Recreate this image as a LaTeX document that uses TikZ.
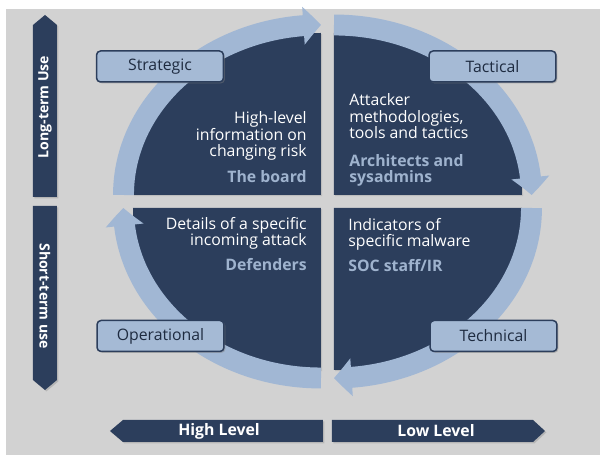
\documentclass[tikz,border=0pt]{standalone}
\usepackage{fontspec}
\setmainfont{Open Sans}
\setsansfont{Open Sans}
\usetikzlibrary{arrows.meta,bending,shadows}

\definecolor{navy}{HTML}{2C3E5C}
\definecolor{ringblue}{HTML}{A1B7D4}
\definecolor{boxblue}{HTML}{A5BAD5}
\definecolor{rolecol}{HTML}{9FB3CE}
\definecolor{panel}{HTML}{D2D2D2}
\definecolor{labelcol}{HTML}{1E2B40}

\begin{document}
\begin{tikzpicture}[x=0.02cm,y=-0.02cm,font=\sffamily\fontsize{9}{9.4}\selectfont,
    >={Triangle[length=10pt,width=21pt,bend]},
    quad/.style={fill=navy,drop shadow={shadow xshift=0.6pt,shadow yshift=-0.6pt,opacity=0.25}},
    ring/.style={draw=ringblue,line width=11.9pt,->},
    level/.style={rounded corners=2.3pt,draw=navy,line width=0.85pt,fill=boxblue,text=labelcol,
        minimum width=2.54cm,minimum height=0.62cm,inner sep=0pt,
        drop shadow={shadow xshift=0.8pt,shadow yshift=-0.8pt,opacity=0.45}},
    bar/.style={fill=navy,drop shadow={shadow xshift=0.8pt,shadow yshift=-0.8pt,opacity=0.35}},
    barlabel/.style={text=white,inner sep=0pt,font=\sffamily\bfseries\fontsize{8}{9}\selectfont},
    info/.style={text=white,inner sep=0pt},
    role/.style={text=rolecol,inner sep=0pt,font=\sffamily\bfseries\fontsize{9}{9.4}\selectfont}]
    \useasboundingbox (0,0) rectangle (600,455);
    \fill [panel] (6,9) rectangle (600,455);

    \fill [quad] (321,195) -- (133,195) arc [start angle=180, end angle=270, x radius=188, y radius=162] -- cycle;
    \fill [quad] (334,195) -- (334,33) arc [start angle=270, end angle=360, x radius=188, y radius=162] -- cycle;
    \fill [quad] (334,208) -- (522,208) arc [start angle=0, end angle=90, x radius=188, y radius=162] -- cycle;
    \fill [quad] (321,208) -- (321,370) arc [start angle=90, end angle=180, x radius=188, y radius=162] -- cycle;

    \draw [ring] (123.5,195) arc [start angle=180, end angle=270, x radius=197.5, y radius=170];
    \draw [ring] (334,25) arc [start angle=270, end angle=360, x radius=197.5, y radius=170];
    \draw [ring] (531.5,208) arc [start angle=0, end angle=90, x radius=197.5, y radius=170];
    \draw [ring] (321,378) arc [start angle=90, end angle=180, x radius=197.5, y radius=170];

    \node [level] (strategic) at (160,66.5) {Strategic};
    \node [level] (tactical) at (492.5,66.5) {Tactical};
    \node [level] (operational) at (160.5,336) {Operational};
    \node [level] (technical) at (493.5,336) {Technical};

    \node [info,align=right,anchor=base east] (risk) at (307,157) {High-level\\information on\\changing risk};
    \node [role,anchor=base east] (board) at (307,183) {The board};
    \node [info,align=left,anchor=base west] (ttp) at (349,139) {Attacker\\methodologies,\\tools and tactics};
    \node [role,align=left,anchor=base west] (admins) at (349,183) {Architects and\\sysadmins};
    \node [info,align=right,anchor=base east] (attack) at (307,246) {Details of a specific\\incoming attack};
    \node [role,anchor=base east] (defenders) at (307,271) {Defenders};
    \node [info,align=left,anchor=base west] (malware) at (348,247) {Indicators of\\specific malware};
    \node [role,anchor=base west] (soc) at (348,272) {SOC staff/IR};

    \fill [bar] (33,197) -- (33,25) -- (45,15) -- (57,25) -- (57,197) -- cycle;
    \fill [bar] (33,206) -- (57,206) -- (57,380) -- (45,390) -- (33,380) -- cycle;
    \fill [bar] (323,420) -- (123,420) -- (110,431) -- (123,442) -- (323,442) -- cycle;
    \fill [bar] (332,420) -- (533,420) -- (545,431) -- (533,442) -- (332,442) -- cycle;
    \node [barlabel,rotate=90] (longterm) at (45,107) {Long-term Use};
    \node [barlabel,rotate=-90] (shortterm) at (45,296) {Short-term use};
    \node [barlabel,font=\sffamily\bfseries\fontsize{9}{9.4}\selectfont] (high) at (219,431) {High Level};
    \node [barlabel,font=\sffamily\bfseries\fontsize{9}{9.4}\selectfont] (low) at (436,431) {Low Level};
\end{tikzpicture}
\end{document}
